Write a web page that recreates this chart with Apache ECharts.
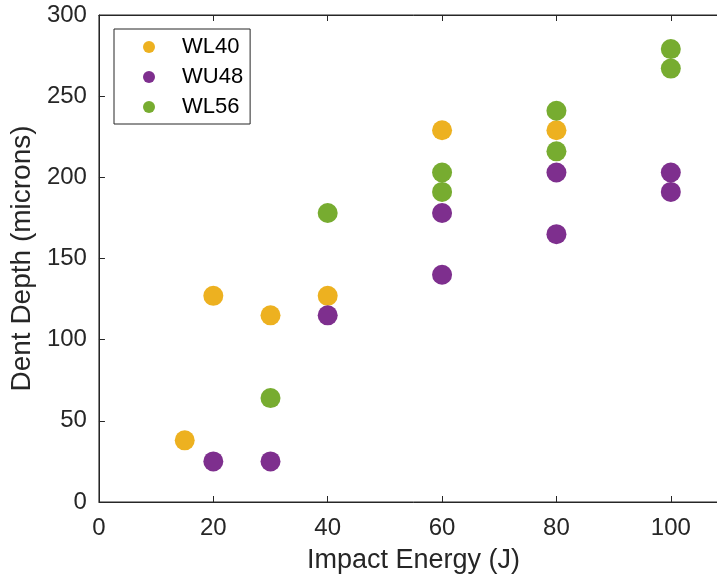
<!DOCTYPE html>
<html><head><meta charset="utf-8">
<script src="https://cdn.jsdelivr.net/npm/echarts@6/dist/echarts.min.js"></script>
<style>html,body{margin:0;padding:0;background:#fff;overflow:hidden}#c{width:740px;height:580px}</style>
</head><body><div id="c"></div>
<script>
const WL40 = [[15,38],[20,127],[30,115],[40,127],[60,229],[80,229]];
const WU48 = [[20,25],[30,25],[40,115],[60,178],[60,140],[80,203],[80,165],[100,203],[100,191]];
const WL56 = [[30,64],[40,178],[60,203],[60,191],[80,241],[80,216],[100,279],[100,267]];
const seriesNames = ['WL40','WU48','WL56'];
const colors = ['#EDB120','#7E2F8E','#77AC30'];
const font = 'Liberation Sans';
const axCol = '#262626';
const chart = echarts.init(document.getElementById('c'));
const mk = (name, data, i) => ({
  name, type:'scatter', data, symbolSize:20,
  itemStyle:{color:colors[i], opacity:1}, xAxisIndex:0, yAxisIndex:0
});
chart.setOption({
  animation:false,
  grid:{left:97, top:15, bottom:78, right:12, show:true, borderColor:axCol, borderWidth:1},
  legend:{
    left:114, top:29, orient:'vertical',
    data: seriesNames,
    itemWidth:12, itemHeight:12, itemGap:8,
    icon:'circle',
    borderColor:axCol, borderWidth:1, padding:[7,7,6,29],
    backgroundColor:'#fff',
    textStyle:{fontFamily:font, fontSize:22, color:'#000', padding:[0,0,0,22]}
  },
  xAxis:[{
    type:'value', min:0, max:110, interval:20,
    name:'Impact Energy (J)', nameLocation:'middle', nameGap:45,
    nameTextStyle:{fontFamily:font, fontSize:27, color:axCol},
    axisLine:{show:true, lineStyle:{color:axCol}},
    axisTick:{show:true, inside:true, length:6, lineStyle:{color:axCol}},
    axisLabel:{fontFamily:font, fontSize:24, color:axCol, margin:14, showMaxLabel:false},
    splitLine:{show:false}
  },{
    type:'value', position:'top', min:0, max:110, interval:20,
    axisLine:{show:true, lineStyle:{color:axCol}},
    axisTick:{show:true, inside:true, length:6, lineStyle:{color:axCol}},
    axisLabel:{show:false}, splitLine:{show:false}
  }],
  yAxis:{
    type:'value', min:0, max:300, interval:50,
    name:'Dent Depth (microns)', nameLocation:'middle', nameGap:60,
    nameTextStyle:{fontFamily:font, fontSize:28, color:axCol},
    axisLine:{show:true, lineStyle:{color:axCol}},
    axisTick:{show:true, inside:true, length:6, lineStyle:{color:axCol}},
    axisLabel:{fontFamily:font, fontSize:24, color:axCol, margin:12},
    splitLine:{show:false}
  },
  series:[mk('WL40',WL40,0), mk('WU48',WU48,1), mk('WL56',WL56,2)]
});
</script></body></html>
